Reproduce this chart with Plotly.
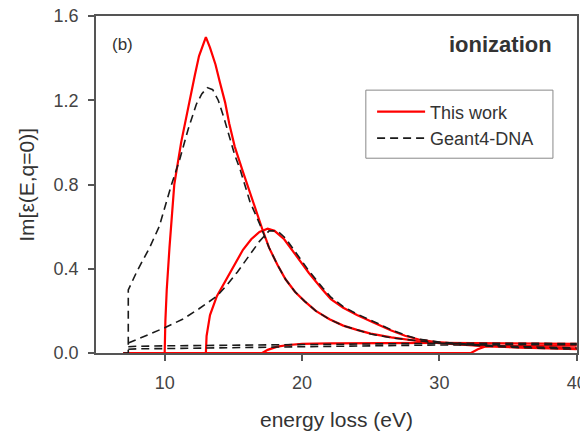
import plotly.graph_objects as go

# ---------------- data ----------------
# This work (red, solid)
red1_x = [7, 10, 10.05, 10.15, 10.35, 10.7, 11.2, 11.8, 12.2, 12.5, 12.8, 13.0, 13.3, 13.7, 14.0, 14.4,
          14.7, 15.1, 15.7, 16.4, 17.1, 17.6, 18.2, 18.8, 19.5, 20.2, 21, 22, 23, 24, 25, 26.5, 28.4,
          30, 33, 36, 40]
red1_y = [0, 0, 0.15, 0.3, 0.5, 0.8, 1.0, 1.2, 1.32, 1.41, 1.47, 1.50, 1.45, 1.37, 1.29, 1.19,
          1.09, 0.98, 0.86, 0.72, 0.59, 0.5, 0.42, 0.35, 0.29, 0.245, 0.2, 0.16, 0.13, 0.11, 0.092,
          0.074, 0.057, 0.047, 0.034, 0.025, 0.018]

red2_x = [7, 13.0, 13.05, 13.3, 13.8, 14.5, 15.2, 15.7, 16.3, 16.9, 17.5, 18.0, 18.7, 19.5, 20.5, 21.5,
          22.1, 23, 24, 25.2, 26.5, 27.5, 28.5, 30, 33, 36, 40]
red2_y = [0, 0, 0.08, 0.18, 0.27, 0.35, 0.43, 0.49, 0.54, 0.575, 0.59, 0.58, 0.54, 0.47, 0.38, 0.30,
          0.256, 0.215, 0.18, 0.145, 0.107, 0.082, 0.064, 0.05, 0.036, 0.028, 0.022]

red3_x = [7, 17.1, 17.5, 18.2, 19.0, 20.0, 22, 25, 30, 35, 40]
red3_y = [0, 0, 0.015, 0.03, 0.038, 0.043, 0.046, 0.048, 0.048, 0.046, 0.043]

red4_x = [7, 32.3, 32.8, 33.3, 34, 36, 40]
red4_y = [0, 0, 0.018, 0.03, 0.033, 0.034, 0.035]

# Geant4-DNA (black, dashed)
blk1_x = [7.0, 7.35, 7.35, 8.0, 8.9, 9.6, 10.5, 11.1, 11.7, 12.3, 12.7, 13.1, 13.5, 13.9, 14.3, 14.7,
          15.1, 15.5, 16.2, 17.0, 17.6, 18.2, 18.8, 19.5, 20.2, 21, 22, 23, 24, 25, 26.5, 28.4, 30,
          33, 36, 40]
blk1_y = [0, 0, 0.30, 0.39, 0.5, 0.6, 0.8, 0.92, 1.06, 1.18, 1.23, 1.26, 1.25, 1.2, 1.12, 1.03,
          0.94, 0.87, 0.72, 0.6, 0.5, 0.42, 0.35, 0.29, 0.245, 0.2, 0.16, 0.13, 0.11, 0.09, 0.072,
          0.057, 0.047, 0.034, 0.025, 0.018]

blk2_x = [7.35, 8.0, 8.9, 10.0, 11.3, 12.5, 13.8, 14.5, 15.3, 16.0, 16.9, 17.6, 18.2, 18.8, 19.5, 20.5,
          21.5, 22.1, 23, 24, 25.2, 26.5, 27.5, 28.5, 30, 33, 36, 40]
blk2_y = [0.047, 0.065, 0.09, 0.12, 0.16, 0.21, 0.27, 0.32, 0.385, 0.45, 0.53, 0.58, 0.58, 0.545, 0.48, 0.39,
          0.31, 0.265, 0.22, 0.185, 0.15, 0.11, 0.085, 0.066, 0.052, 0.038, 0.03, 0.024]

blk_small_x = [7.35, 8, 10, 13, 16, 20, 25, 30, 35, 40]
blk3_y = [0.03, 0.032, 0.034, 0.036, 0.038, 0.042, 0.045, 0.046, 0.046, 0.045]
blk4_y = [0.018, 0.02, 0.021, 0.023, 0.026, 0.03, 0.034, 0.038, 0.04, 0.04]

x_ticks = [10, 20, 30, 40]
y_ticks = [0.0, 0.4, 0.8, 1.2, 1.6]
y_tick_text = ["0.0", "0.4", "0.8", "1.2", "1.6"]

# ---------------- figure ----------------
FONT = "Liberation Sans, Arial, sans-serif"
RED = "#ff0000"
BLK = "#1a1a1a"
TXT = "#333333"

fig = go.Figure()

red_series = [(red1_x, red1_y), (red2_x, red2_y), (red3_x, red3_y), (red4_x, red4_y)]
blk_series = [(blk1_x, blk1_y), (blk2_x, blk2_y), (blk_small_x, blk3_y), (blk_small_x, blk4_y)]

for i, (xs, ys) in enumerate(red_series):
    fig.add_trace(go.Scatter(x=xs, y=ys, mode="lines", name="This work", legendgroup="red",
                             showlegend=(i == 0), line=dict(color=RED, width=2.2)))
for i, (xs, ys) in enumerate(blk_series):
    fig.add_trace(go.Scatter(x=xs, y=ys, mode="lines", name="Geant4-DNA", legendgroup="blk",
                             showlegend=(i == 0),
                             line=dict(color=BLK, width=1.6, dash="8px,5px")))

axis_common = dict(showline=True, linecolor="#555555", linewidth=1.5, mirror=True,
                   ticks="outside", ticklen=6, tickwidth=1.5, tickcolor="#555555",
                   showgrid=False, zeroline=False, automargin=False, ticklabeloverflow="allow",
                   tickfont=dict(family=FONT, size=18, color="#444444"))

fig.update_xaxes(range=[5, 40.02], tickvals=x_ticks, ticktext=[str(v) for v in x_ticks],
                 ticklabelstandoff=7, **axis_common)
fig.update_yaxes(range=[0, 1.6], tickvals=y_ticks, ticktext=y_tick_text, ticklabelstandoff=6,
                 **axis_common)

# axis titles
fig.add_annotation(text="energy loss (eV)", x=0.5, y=-0.197, xref="paper", yref="paper",
                   xanchor="center", yanchor="middle", showarrow=False,
                   font=dict(family=FONT, size=21, color=TXT))
fig.add_annotation(text="Im[ε(E,q=0)]", x=-0.145, y=0.5, xref="paper", yref="paper",
                   xanchor="center", yanchor="middle", textangle=-90, showarrow=False,
                   font=dict(family=FONT, size=21, color=TXT))

# panel labels
fig.add_annotation(text="(b)", x=0.029, y=0.916, xref="paper", yref="paper", xanchor="left",
                   yanchor="middle", showarrow=False, font=dict(family=FONT, size=17, color=TXT))
fig.add_annotation(text="<b>ionization</b>", x=0.952, y=0.916, xref="paper", yref="paper",
                   xanchor="right", yanchor="middle", showarrow=False,
                   font=dict(family=FONT, size=22, color=TXT))

# legend frame
fig.add_shape(type="rect", xref="paper", yref="paper", x0=0.561, x1=0.950, y0=0.578, y1=0.780,
              line=dict(color="#888888", width=1), fillcolor="white", layer="below")

fig.update_layout(
    width=580, height=431,
    margin=dict(l=96, r=3, t=15.5, b=77.5),
    paper_bgcolor="white", plot_bgcolor="rgba(0,0,0,0)",
    showlegend=True,
    hovermode=False,
    legend=dict(x=0.574, y=0.770, xanchor="left", yanchor="top", tracegroupgap=0,
                itemwidth=48, borderwidth=0, bgcolor="rgba(0,0,0,0)",
                font=dict(family=FONT, size=18, color=TXT)),
)

fig.write_html("out.html", config={"displayModeBar": False},
               post_script="document.body.style.margin='0';document.body.style.overflow='hidden';")
